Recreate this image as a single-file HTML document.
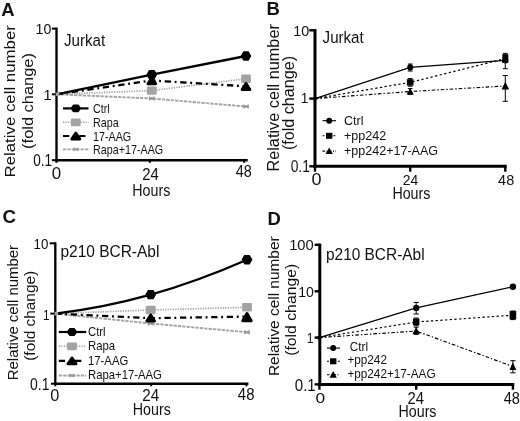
<!DOCTYPE html>
<html><head><meta charset="utf-8"><title>Figure</title>
<style>
html,body{margin:0;padding:0;background:#fff;}
svg{display:block;font-family:"Liberation Sans", sans-serif;will-change:transform;filter:grayscale(1);}
</style></head><body>
<svg width="520" height="421" viewBox="0 0 520 421">
<rect width="520" height="421" fill="#fff"/>
<text transform="translate(1.3,15.7) scale(1.0577,1)" font-size="17.47" text-anchor="start" font-weight="bold" fill="#111">A</text>
<text transform="translate(14.5,101.3) rotate(-90) scale(1.1154,1)" font-size="15.08" text-anchor="middle" font-weight="normal" fill="#111">Relative cell number</text>
<text transform="translate(33,101) rotate(-90) scale(1.0886,1)" font-size="15.08" text-anchor="middle" font-weight="normal" fill="#111">(fold change)</text>
<line x1="56.5" y1="27.6" x2="56.5" y2="161.375" stroke="#000" stroke-width="2.35" stroke-linecap="butt"/>
<line x1="55.325" y1="160.2" x2="247.7" y2="160.2" stroke="#000" stroke-width="2.35" stroke-linecap="butt"/>
<line x1="51.9" y1="28.6" x2="56.5" y2="28.6" stroke="#000" stroke-width="2.0" stroke-linecap="butt"/>
<line x1="51.9" y1="94.3" x2="56.5" y2="94.3" stroke="#000" stroke-width="2.0" stroke-linecap="butt"/>
<line x1="51.9" y1="160.2" x2="56.5" y2="160.2" stroke="#000" stroke-width="2.0" stroke-linecap="butt"/>
<line x1="56.5" y1="160.2" x2="56.5" y2="162.79999999999998" stroke="#000" stroke-width="2.0" stroke-linecap="butt"/>
<line x1="149.8" y1="160.2" x2="149.8" y2="162.79999999999998" stroke="#000" stroke-width="2.0" stroke-linecap="butt"/>
<line x1="244.2" y1="160.2" x2="244.2" y2="162.79999999999998" stroke="#000" stroke-width="2.0" stroke-linecap="butt"/>
<text transform="translate(151.3,195.6) scale(0.8846,1)" font-size="16.12" text-anchor="middle" font-weight="normal" fill="#111">Hours</text>
<text transform="translate(64,45.6) scale(0.9087,1)" font-size="16.64" text-anchor="start" font-weight="normal" fill="#111">Jurkat</text>
<polyline points="56.5,94.3 151.8,98.5 246,106.5" fill="none" stroke="#a3a3a3" stroke-width="1.9" stroke-dasharray="3.3,1.1"/>
<polyline points="56.5,94.3 151.8,90.6 246,78.7" fill="none" stroke="#a3a3a3" stroke-width="1.7" stroke-dasharray="1.3,1.2"/>
<polyline points="56.5,94.3 151.8,80.5 246,86.3" fill="none" stroke="#000" stroke-width="2.3" stroke-dasharray="6.3,3.7,1.9,3.7"/>
<polyline points="56.5,94.3 151.8,74.6 246,56" fill="none" stroke="#000" stroke-width="2.3"/>
<polygon points="148.9,96.2 151.8,97.465 154.70000000000002,96.2 154.70000000000002,100.8 151.8,99.535 148.9,100.8" fill="#999"/>
<polygon points="243.1,104.2 246,105.465 248.9,104.2 248.9,108.8 246,107.535 243.1,108.8" fill="#999"/>
<rect x="146.9" y="86.39999999999999" width="9.8" height="8.4" rx="1" fill="#a3a3a3"/>
<rect x="241.1" y="74.5" width="9.8" height="8.4" rx="1" fill="#a3a3a3"/>
<polygon points="151.8,77.7 155.60000000000002,83.7 148.0,83.7" fill="#000" stroke="#000" stroke-width="3" stroke-linejoin="round"/>
<polygon points="246,83.5 249.8,89.5 242.2,89.5" fill="#000" stroke="#000" stroke-width="3" stroke-linejoin="round"/>
<polygon points="156.40,74.60 154.10,78.58 149.50,78.58 147.20,74.60 149.50,70.62 154.10,70.62" fill="#000" stroke="#000" stroke-width="1.4" stroke-linejoin="round"/>
<polygon points="250.60,56.00 248.30,59.98 243.70,59.98 241.40,56.00 243.70,52.02 248.30,52.02" fill="#000" stroke="#000" stroke-width="1.4" stroke-linejoin="round"/>
<rect x="55.7" y="92.5" width="3.6" height="3.6" rx="0" fill="#a3a3a3"/>
<line x1="63" y1="108.4" x2="88.5" y2="108.4" stroke="#000" stroke-width="2.2" stroke-linecap="butt"/>
<polygon points="80.30,108.40 78.05,111.60 73.55,111.60 71.30,108.40 73.55,105.20 78.05,105.20" fill="#000" stroke="#000" stroke-width="1.4" stroke-linejoin="round"/>
<text transform="translate(93,113.0) scale(0.8413,1)" font-size="12.79" text-anchor="start" font-weight="normal" fill="#111">Ctrl</text>
<line x1="63" y1="122.3" x2="88.5" y2="122.3" stroke="#a3a3a3" stroke-width="1.6" stroke-linecap="butt" stroke-dasharray="1.3,1.2"/>
<rect x="70.89999999999999" y="118.39999999999999" width="9.8" height="7.8" rx="1.2" fill="#a3a3a3"/>
<text transform="translate(93,126.89999999999999) scale(0.8413,1)" font-size="12.79" text-anchor="start" font-weight="normal" fill="#111">Rapa</text>
<line x1="63" y1="136" x2="88.5" y2="136" stroke="#000" stroke-width="2.2" stroke-linecap="butt" stroke-dasharray="6.3,10,6.2,100"/>
<polygon points="75.8,133.2 79.8,139.0 71.8,139.0" fill="#000" stroke="#000" stroke-width="3" stroke-linejoin="round"/>
<text transform="translate(93,140.6) scale(0.8413,1)" font-size="12.79" text-anchor="start" font-weight="normal" fill="#111">17-AAG</text>
<line x1="63" y1="149.3" x2="88.5" y2="149.3" stroke="#a3a3a3" stroke-width="1.8" stroke-linecap="butt" stroke-dasharray="3.3,1.1"/>
<polygon points="73.3,147.3 75.8,148.4 78.3,147.3 78.3,151.3 75.8,150.20000000000002 73.3,151.3" fill="#999"/>
<text transform="translate(93,153.9) scale(0.8413,1)" font-size="12.79" text-anchor="start" font-weight="normal" fill="#111">Rapa+17-AAG</text>
<text transform="translate(266.5,15.2) scale(1.0577,1)" font-size="17.47" text-anchor="start" font-weight="bold" fill="#111">B</text>
<text transform="translate(279.3,97.85) rotate(-90) scale(1.0433,1)" font-size="15.6" text-anchor="middle" font-weight="normal" fill="#111">Relative cell number</text>
<text transform="translate(293.7,103) rotate(-90) scale(1.0337,1)" font-size="15.6" text-anchor="middle" font-weight="normal" fill="#111">(fold change)</text>
<line x1="315" y1="29.1" x2="315" y2="167.8" stroke="#000" stroke-width="3.0" stroke-linecap="butt"/>
<line x1="313.5" y1="166.3" x2="506.7" y2="166.3" stroke="#000" stroke-width="3.0" stroke-linecap="butt"/>
<line x1="309.3" y1="30.3" x2="315" y2="30.3" stroke="#000" stroke-width="2.4" stroke-linecap="butt"/>
<line x1="309.3" y1="98.6" x2="315" y2="98.6" stroke="#000" stroke-width="2.4" stroke-linecap="butt"/>
<line x1="309.3" y1="166.3" x2="315" y2="166.3" stroke="#000" stroke-width="2.4" stroke-linecap="butt"/>
<line x1="315" y1="166.3" x2="315" y2="171.70000000000002" stroke="#000" stroke-width="2.4" stroke-linecap="butt"/>
<line x1="410.2" y1="166.3" x2="410.2" y2="171.70000000000002" stroke="#000" stroke-width="2.4" stroke-linecap="butt"/>
<line x1="505.3" y1="166.3" x2="505.3" y2="171.70000000000002" stroke="#000" stroke-width="2.4" stroke-linecap="butt"/>
<text transform="translate(411.4,198.5) scale(0.8846,1)" font-size="16.12" text-anchor="middle" font-weight="normal" fill="#111">Hours</text>
<text transform="translate(322.6,42.8) scale(0.9087,1)" font-size="16.64" text-anchor="start" font-weight="normal" fill="#111">Jurkat</text>
<polyline points="315,98.6 410.2,91.5 505.3,86" fill="none" stroke="#000" stroke-width="1.15" stroke-dasharray="3.6,2,1.4,2"/>
<polyline points="315,98.6 410.2,82.4 505.3,58.6" fill="none" stroke="#000" stroke-width="1.2" stroke-dasharray="2.3,2.4"/>
<polyline points="315,98.6 410.2,67.4 505.3,60.3" fill="none" stroke="#000" stroke-width="1.2"/>
<line x1="410.2" y1="64" x2="410.2" y2="71" stroke="#000" stroke-width="1" stroke-linecap="butt"/>
<line x1="407.8" y1="64" x2="412.59999999999997" y2="64" stroke="#000" stroke-width="1" stroke-linecap="butt"/>
<line x1="407.8" y1="71" x2="412.59999999999997" y2="71" stroke="#000" stroke-width="1" stroke-linecap="butt"/>
<line x1="410.2" y1="78.6" x2="410.2" y2="86.2" stroke="#000" stroke-width="1" stroke-linecap="butt"/>
<line x1="407.8" y1="78.6" x2="412.59999999999997" y2="78.6" stroke="#000" stroke-width="1" stroke-linecap="butt"/>
<line x1="407.8" y1="86.2" x2="412.59999999999997" y2="86.2" stroke="#000" stroke-width="1" stroke-linecap="butt"/>
<line x1="410.2" y1="88.6" x2="410.2" y2="94.4" stroke="#000" stroke-width="1" stroke-linecap="butt"/>
<line x1="407.8" y1="88.6" x2="412.59999999999997" y2="88.6" stroke="#000" stroke-width="1" stroke-linecap="butt"/>
<line x1="407.8" y1="94.4" x2="412.59999999999997" y2="94.4" stroke="#000" stroke-width="1" stroke-linecap="butt"/>
<line x1="505.3" y1="53.4" x2="505.3" y2="68.7" stroke="#000" stroke-width="1" stroke-linecap="butt"/>
<line x1="502.90000000000003" y1="53.4" x2="507.7" y2="53.4" stroke="#000" stroke-width="1" stroke-linecap="butt"/>
<line x1="502.90000000000003" y1="68.7" x2="507.7" y2="68.7" stroke="#000" stroke-width="1" stroke-linecap="butt"/>
<line x1="505.3" y1="75.5" x2="505.3" y2="101.3" stroke="#000" stroke-width="1" stroke-linecap="butt"/>
<line x1="502.7" y1="75.5" x2="507.90000000000003" y2="75.5" stroke="#000" stroke-width="1" stroke-linecap="butt"/>
<line x1="502.7" y1="101.3" x2="507.90000000000003" y2="101.3" stroke="#000" stroke-width="1" stroke-linecap="butt"/>
<ellipse cx="410.2" cy="67.4" rx="3.0" ry="3.1" fill="#000"/>
<rect x="406.9" y="79.2" width="6.6" height="6.4" rx="0" fill="#000"/>
<polygon points="410.2,88.1 413.8,94.5 406.59999999999997,94.5" fill="#000"/>
<ellipse cx="505.3" cy="60.2" rx="3.0" ry="3.2" fill="#000"/>
<rect x="502.3" y="54.2" width="6.0" height="8.8" rx="0" fill="#000"/>
<polygon points="505.3,81.8 509.1,89.39999999999999 501.5,89.39999999999999" fill="#000"/>
<ellipse cx="315" cy="98.6" rx="2.2" ry="2.2" fill="#000"/>
<line x1="322.5" y1="120.7" x2="336" y2="120.7" stroke="#000" stroke-width="1.1" stroke-linecap="butt"/>
<ellipse cx="329.2" cy="120.7" rx="3.0" ry="3.0" fill="#000"/>
<text transform="translate(344,124.5) scale(0.9279,1)" font-size="13.52" text-anchor="start" font-weight="normal" fill="#111">Ctrl</text>
<line x1="322.5" y1="135.8" x2="336" y2="135.8" stroke="#000" stroke-width="1.1" stroke-linecap="butt" stroke-dasharray="2,1.6"/>
<rect x="326.0" y="132.8" width="6.4" height="6.0" rx="0" fill="#000"/>
<text transform="translate(344,139.60000000000002) scale(0.9279,1)" font-size="13.52" text-anchor="start" font-weight="normal" fill="#111">+pp242</text>
<line x1="322.5" y1="151.1" x2="336" y2="151.1" stroke="#000" stroke-width="1.1" stroke-linecap="butt" stroke-dasharray="2.5,1.5,1,1.5"/>
<polygon points="329.2,147.49999999999997 332.8,154.1 325.59999999999997,154.1" fill="#000"/>
<text transform="translate(344,154.9) scale(0.9279,1)" font-size="13.52" text-anchor="start" font-weight="normal" fill="#111">+pp242+17-AAG</text>
<text transform="translate(2.4,222.6) scale(1.0769,1)" font-size="17.47" text-anchor="start" font-weight="bold" fill="#111">C</text>
<text transform="translate(18,312.6) rotate(-90) scale(1.0721,1)" font-size="13.94" text-anchor="middle" font-weight="normal" fill="#111">Relative cell number</text>
<text transform="translate(34.6,315.8) rotate(-90) scale(1.1058,1)" font-size="13.94" text-anchor="middle" font-weight="normal" fill="#111">(fold change)</text>
<line x1="55.3" y1="242.3" x2="55.3" y2="384.875" stroke="#000" stroke-width="2.35" stroke-linecap="butt"/>
<line x1="54.125" y1="383.7" x2="248.4" y2="383.7" stroke="#000" stroke-width="2.35" stroke-linecap="butt"/>
<line x1="49.699999999999996" y1="243.3" x2="55.3" y2="243.3" stroke="#000" stroke-width="2.0" stroke-linecap="butt"/>
<line x1="50.3" y1="313.6" x2="55.3" y2="313.6" stroke="#000" stroke-width="2.0" stroke-linecap="butt"/>
<line x1="50.9" y1="383.7" x2="55.3" y2="383.7" stroke="#000" stroke-width="2.0" stroke-linecap="butt"/>
<line x1="55.3" y1="383.7" x2="55.3" y2="386.3" stroke="#000" stroke-width="2.0" stroke-linecap="butt"/>
<line x1="151.2" y1="383.7" x2="151.2" y2="386.3" stroke="#000" stroke-width="2.0" stroke-linecap="butt"/>
<line x1="246.4" y1="383.7" x2="246.4" y2="386.3" stroke="#000" stroke-width="2.0" stroke-linecap="butt"/>
<text transform="translate(151.8,414.8) scale(0.8846,1)" font-size="16.12" text-anchor="middle" font-weight="normal" fill="#111">Hours</text>
<text transform="translate(60.4,257.3) scale(0.9808,1)" font-size="15.81" text-anchor="start" font-weight="normal" fill="#111">p210 BCR-Abl</text>
<polyline points="55.3,313.6 150.7,323.5 247,332.2" fill="none" stroke="#a3a3a3" stroke-width="1.9" stroke-dasharray="3.3,1.1"/>
<polyline points="55.3,313.6 150.7,310 247,307.3" fill="none" stroke="#a3a3a3" stroke-width="1.7" stroke-dasharray="1.3,1.2"/>
<polyline points="55.3,313.6 150.7,318.2 247,316.6" fill="none" stroke="#000" stroke-width="2.3" stroke-dasharray="6.3,3.7,1.9,3.7"/>
<path d="M55.3,313.6 C87.1,309.8 118.9,303.5 150.7,294.6 C182.8,285.6 214.9,273.8 247,259.7" fill="none" stroke="#000" stroke-width="2.3"/>
<polygon points="147.79999999999998,321.2 150.7,322.465 153.6,321.2 153.6,325.8 150.7,324.535 147.79999999999998,325.8" fill="#999"/>
<polygon points="244.1,329.9 247,331.16499999999996 249.9,329.9 249.9,334.5 247,333.235 244.1,334.5" fill="#999"/>
<rect x="145.79999999999998" y="305.8" width="9.8" height="8.4" rx="1" fill="#a3a3a3"/>
<rect x="242.1" y="303.0" width="9.8" height="8.4" rx="1" fill="#a3a3a3"/>
<polygon points="150.7,315.0 154.5,321.0 146.89999999999998,321.0" fill="#000" stroke="#000" stroke-width="3" stroke-linejoin="round"/>
<polygon points="247,313.59999999999997 251.2,320.8 242.8,320.8" fill="#000" stroke="#000" stroke-width="3" stroke-linejoin="round"/>
<polygon points="155.30,294.60 153.00,298.58 148.40,298.58 146.10,294.60 148.40,290.62 153.00,290.62" fill="#000" stroke="#000" stroke-width="1.4" stroke-linejoin="round"/>
<polygon points="251.60,259.70 249.30,263.68 244.70,263.68 242.40,259.70 244.70,255.72 249.30,255.72" fill="#000" stroke="#000" stroke-width="1.4" stroke-linejoin="round"/>
<rect x="54.5" y="311.8" width="3.6" height="3.6" rx="0" fill="#a3a3a3"/>
<line x1="58.8" y1="332" x2="86.3" y2="332" stroke="#000" stroke-width="2.2" stroke-linecap="butt"/>
<polygon points="76.50,332.00 74.25,335.20 69.75,335.20 67.50,332.00 69.75,328.80 74.25,328.80" fill="#000" stroke="#000" stroke-width="1.4" stroke-linejoin="round"/>
<text transform="translate(88,335.9) scale(0.851,1)" font-size="13.31" text-anchor="start" font-weight="normal" fill="#111">Ctrl</text>
<line x1="58.8" y1="346.3" x2="86.3" y2="346.3" stroke="#a3a3a3" stroke-width="1.6" stroke-linecap="butt" stroke-dasharray="1.3,1.2"/>
<rect x="67.1" y="342.40000000000003" width="9.8" height="7.8" rx="1.2" fill="#a3a3a3"/>
<text transform="translate(88,350.2) scale(0.851,1)" font-size="13.31" text-anchor="start" font-weight="normal" fill="#111">Rapa</text>
<line x1="58.8" y1="360.8" x2="86.3" y2="360.8" stroke="#000" stroke-width="2.2" stroke-linecap="butt" stroke-dasharray="6.3,10,6.2,100"/>
<polygon points="72,358.00000000000006 76.0,363.8 68.0,363.8" fill="#000" stroke="#000" stroke-width="3" stroke-linejoin="round"/>
<text transform="translate(88,364.7) scale(0.851,1)" font-size="13.31" text-anchor="start" font-weight="normal" fill="#111">17-AAG</text>
<line x1="58.8" y1="375.5" x2="86.3" y2="375.5" stroke="#a3a3a3" stroke-width="1.8" stroke-linecap="butt" stroke-dasharray="3.3,1.1"/>
<polygon points="69.5,373.5 72,374.6 74.5,373.5 74.5,377.5 72,376.4 69.5,377.5" fill="#999"/>
<text transform="translate(88,379.4) scale(0.851,1)" font-size="13.31" text-anchor="start" font-weight="normal" fill="#111">Rapa+17-AAG</text>
<text transform="translate(267.6,224.6) scale(1.0577,1)" font-size="17.47" text-anchor="start" font-weight="bold" fill="#111">D</text>
<text transform="translate(279.3,306.2) rotate(-90) scale(1.0913,1)" font-size="14.14" text-anchor="middle" font-weight="normal" fill="#111">Relative cell number</text>
<text transform="translate(296.4,309.8) rotate(-90) scale(1.1154,1)" font-size="14.14" text-anchor="middle" font-weight="normal" fill="#111">(fold change)</text>
<line x1="319.8" y1="243.60000000000002" x2="319.8" y2="385.9" stroke="#000" stroke-width="3.0" stroke-linecap="butt"/>
<line x1="318.3" y1="384.4" x2="514.3" y2="384.4" stroke="#000" stroke-width="3.0" stroke-linecap="butt"/>
<line x1="314.6" y1="244.8" x2="319.8" y2="244.8" stroke="#000" stroke-width="2.4" stroke-linecap="butt"/>
<line x1="314.6" y1="291.3" x2="319.8" y2="291.3" stroke="#000" stroke-width="2.4" stroke-linecap="butt"/>
<line x1="314.6" y1="337.6" x2="319.8" y2="337.6" stroke="#000" stroke-width="2.4" stroke-linecap="butt"/>
<line x1="314.6" y1="384.4" x2="319.8" y2="384.4" stroke="#000" stroke-width="2.4" stroke-linecap="butt"/>
<line x1="319.4" y1="384.4" x2="319.4" y2="389.7" stroke="#000" stroke-width="2.4" stroke-linecap="butt"/>
<line x1="416.2" y1="384.4" x2="416.2" y2="389.7" stroke="#000" stroke-width="2.4" stroke-linecap="butt"/>
<line x1="512.9" y1="384.4" x2="512.9" y2="389.7" stroke="#000" stroke-width="2.4" stroke-linecap="butt"/>
<text transform="translate(417.5,417.4) scale(0.8846,1)" font-size="16.12" text-anchor="middle" font-weight="normal" fill="#111">Hours</text>
<text transform="translate(326,260.2) scale(0.976,1)" font-size="15.81" text-anchor="start" font-weight="normal" fill="#111">p210 BCR-Abl</text>
<polyline points="319.4,337.6 416.2,331 512.9,366.5" fill="none" stroke="#000" stroke-width="1.15" stroke-dasharray="3.6,2,1.4,2"/>
<polyline points="319.4,337.6 416.2,322 512.9,315.2" fill="none" stroke="#000" stroke-width="1.2" stroke-dasharray="2.3,2.4"/>
<polyline points="319.4,337.6 416.2,307.9 512.9,286.7" fill="none" stroke="#000" stroke-width="1.2"/>
<line x1="416.2" y1="302.4" x2="416.2" y2="314" stroke="#000" stroke-width="1" stroke-linecap="butt"/>
<line x1="413.5" y1="302.4" x2="418.9" y2="302.4" stroke="#000" stroke-width="1" stroke-linecap="butt"/>
<line x1="413.5" y1="314" x2="418.9" y2="314" stroke="#000" stroke-width="1" stroke-linecap="butt"/>
<line x1="416.2" y1="318" x2="416.2" y2="325.8" stroke="#000" stroke-width="1" stroke-linecap="butt"/>
<line x1="413.7" y1="318" x2="418.7" y2="318" stroke="#000" stroke-width="1" stroke-linecap="butt"/>
<line x1="413.7" y1="325.8" x2="418.7" y2="325.8" stroke="#000" stroke-width="1" stroke-linecap="butt"/>
<line x1="416.2" y1="327.2" x2="416.2" y2="334.4" stroke="#000" stroke-width="1" stroke-linecap="butt"/>
<line x1="413.7" y1="327.2" x2="418.7" y2="327.2" stroke="#000" stroke-width="1" stroke-linecap="butt"/>
<line x1="413.7" y1="334.4" x2="418.7" y2="334.4" stroke="#000" stroke-width="1" stroke-linecap="butt"/>
<line x1="512.9" y1="311" x2="512.9" y2="319.6" stroke="#000" stroke-width="1" stroke-linecap="butt"/>
<line x1="510.5" y1="311" x2="515.3" y2="311" stroke="#000" stroke-width="1" stroke-linecap="butt"/>
<line x1="510.5" y1="319.6" x2="515.3" y2="319.6" stroke="#000" stroke-width="1" stroke-linecap="butt"/>
<line x1="512.9" y1="360.7" x2="512.9" y2="372.8" stroke="#000" stroke-width="1" stroke-linecap="butt"/>
<line x1="510.29999999999995" y1="360.7" x2="515.5" y2="360.7" stroke="#000" stroke-width="1" stroke-linecap="butt"/>
<line x1="510.29999999999995" y1="372.8" x2="515.5" y2="372.8" stroke="#000" stroke-width="1" stroke-linecap="butt"/>
<ellipse cx="416.2" cy="307.9" rx="3.1" ry="3.2" fill="#000"/>
<rect x="413.0" y="318.59999999999997" width="6.4" height="6.6" rx="0" fill="#000"/>
<polygon points="416.2,327.0 419.9,334.0 412.5,334.0" fill="#000"/>
<ellipse cx="512.9" cy="286.7" rx="3.2" ry="3.3" fill="#000"/>
<rect x="509.59999999999997" y="311.0" width="6.6" height="8.4" rx="0" fill="#000"/>
<polygon points="512.9,362.5 516.3,369.9 509.5,369.9" fill="#000"/>
<ellipse cx="319.4" cy="337.6" rx="2.2" ry="2.2" fill="#000"/>
<line x1="327" y1="348.1" x2="340" y2="348.1" stroke="#000" stroke-width="1.1" stroke-linecap="butt"/>
<ellipse cx="333.2" cy="348.1" rx="3.0" ry="3.0" fill="#000"/>
<text transform="translate(349.8,351.1) scale(0.9423,1)" font-size="12.48" text-anchor="start" font-weight="normal" fill="#111">Ctrl</text>
<line x1="327" y1="361.3" x2="340" y2="361.3" stroke="#000" stroke-width="1.1" stroke-linecap="butt" stroke-dasharray="2,1.6"/>
<rect x="330.0" y="358.3" width="6.4" height="6.0" rx="0" fill="#000"/>
<text transform="translate(347.4,364.3) scale(0.9423,1)" font-size="12.48" text-anchor="start" font-weight="normal" fill="#111">+pp242</text>
<line x1="327" y1="374.7" x2="340" y2="374.7" stroke="#000" stroke-width="1.1" stroke-linecap="butt" stroke-dasharray="2.5,1.5,1,1.5"/>
<polygon points="333.2,371.09999999999997 336.8,377.7 329.59999999999997,377.7" fill="#000"/>
<text transform="translate(347.4,377.7) scale(0.9423,1)" font-size="12.48" text-anchor="start" font-weight="normal" fill="#111">+pp242+17-AAG</text>
<text transform="translate(35.62,34.46) scale(0.9886,1)" font-size="14.41" fill="#111">10</text>
<text transform="translate(43.13,99.70) scale(1.0127,1)" font-size="15.12" fill="#111">1</text>
<text transform="translate(33.27,165.94) scale(0.8441,1)" font-size="16.10" fill="#111">0.1</text>
<text transform="translate(51.64,178.64) scale(1.0617,1)" font-size="15.96" fill="#111">0</text>
<text transform="translate(142.25,180.10) scale(0.8605,1)" font-size="17.33" fill="#111">24</text>
<text transform="translate(235.77,177.33) scale(0.8448,1)" font-size="17.09" fill="#111">48</text>
<text transform="translate(293.31,35.55) scale(0.9231,1)" font-size="15.54" fill="#111">10</text>
<text transform="translate(300.76,103.00) scale(0.9910,1)" font-size="13.81" fill="#111">1</text>
<text transform="translate(290.66,172.34) scale(0.8293,1)" font-size="16.67" fill="#111">0.1</text>
<text transform="translate(311.40,184.65) scale(1.1373,1)" font-size="15.82" fill="#111">0</text>
<text transform="translate(402.80,185.20) scale(0.9185,1)" font-size="15.18" fill="#111">24</text>
<text transform="translate(498.07,185.05) scale(0.9527,1)" font-size="15.25" fill="#111">48</text>
<text transform="translate(33.48,249.36) scale(0.9169,1)" font-size="14.55" fill="#111">10</text>
<text transform="translate(42.90,319.50) scale(0.7606,1)" font-size="15.55" fill="#111">1</text>
<text transform="translate(30.05,389.64) scale(0.8680,1)" font-size="16.10" fill="#111">0.1</text>
<text transform="translate(50.16,400.84) scale(0.9959,1)" font-size="16.38" fill="#111">0</text>
<text transform="translate(142.24,401.20) scale(0.9563,1)" font-size="15.90" fill="#111">24</text>
<text transform="translate(237.86,400.45) scale(0.9429,1)" font-size="15.82" fill="#111">48</text>
<text transform="translate(289.18,249.86) scale(0.9941,1)" font-size="14.83" fill="#111">100</text>
<text transform="translate(298.13,297.15) scale(0.9037,1)" font-size="15.54" fill="#111">10</text>
<text transform="translate(306.86,343.00) scale(0.7904,1)" font-size="15.55" fill="#111">1</text>
<text transform="translate(294.81,390.94) scale(0.9430,1)" font-size="15.96" fill="#111">0.1</text>
<text transform="translate(315.62,402.95) scale(1.1383,1)" font-size="15.25" fill="#111">0</text>
<text transform="translate(407.55,403.70) scale(0.8976,1)" font-size="16.61" fill="#111">24</text>
<text transform="translate(503.67,403.54) scale(0.8870,1)" font-size="16.38" fill="#111">48</text>
</svg>
</body></html>
